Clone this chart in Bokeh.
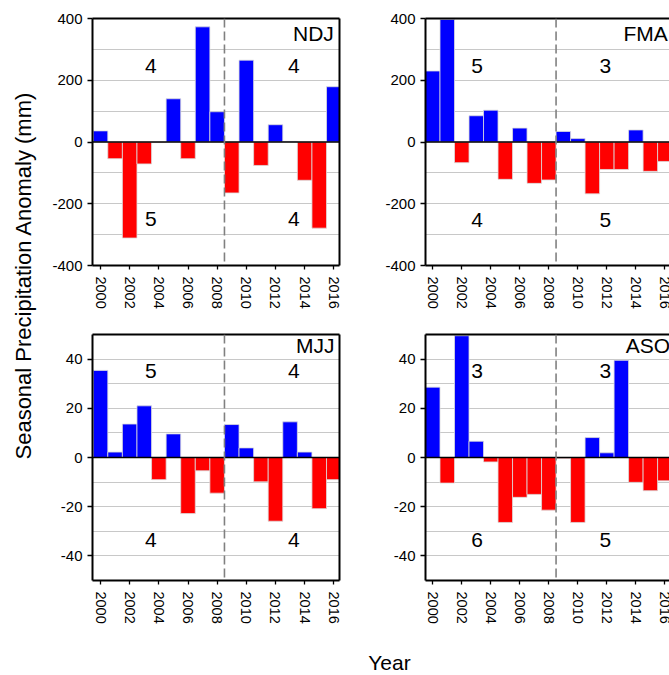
import numpy as np
from bokeh.plotting import figure
from bokeh.layouts import row, column
from bokeh.models import Range1d, FixedTicker, LinearAxis, Span, ColumnDataSource
from bokeh.core.properties import value
from bokeh.embed import file_html
from bokeh.resources import INLINE

# Seasonal precipitation anomalies (mm), 2000-2016
years = list(range(2000, 2017))
ndj = [36, -54, -311, -71, -2, 140, -54, 373, 98, -165, 265, -76, 56, 2, -124, -279, 179]
fma = [230, 397, -67, 85, 103, -121, 45, -134, -123, 34, 11, -168, -89, -89, 39, -95, -63]
mjj = [35.4, 2.2, 13.6, 21.0, -9.0, 9.6, -22.8, -5.4, -14.5, 13.4, 3.9, -9.9, -25.9, 14.5, 2.2, -20.8, -9.0]
aso = [28.6, -10.4, 49.5, 6.6, -1.8, -26.4, -16.2, -15.0, -21.4, -0.4, -26.4, 8.1, 1.9, 39.5, -10.1, -13.5, -9.5]
season_names = ["NDJ", "FMA", "MJJ", "ASO"]
year_ticks = list(range(2000, 2017, 2))
split_year = 2008.5

FONT = "Liberation Sans"
BLUE = "#0000FF"
RED = "#FF0000"


def count_signs(vals, before):
    sel = [v for y, v in zip(years, vals) if (y < split_year) == before]
    return sum(1 for v in sel if v > 0), sum(1 for v in sel if v < 0)


def make_panel(name, vals, ylim, major_step, grid_step, width, height, borders,
               xr, right_border, cnt_x, cnt_y, name_xy):
    left, right, top, bottom = borders
    p = figure(width=width, height=height, x_range=Range1d(*xr),
               y_range=Range1d(-ylim, ylim), output_backend="svg",
               toolbar_location=None, min_border_left=left, min_border_right=right,
               min_border_top=top, min_border_bottom=bottom,
               outline_line_color=None, background_fill_color="white",
               border_fill_color="white")

    # grid
    p.xgrid.visible = False
    grid_ticks = [g for g in np.arange(-ylim + grid_step, ylim, grid_step) if abs(g) > 1e-9]
    p.ygrid.ticker = FixedTicker(ticks=[float(g) for g in grid_ticks])
    p.ygrid.grid_line_color = "#c8c8c8"
    p.ygrid.grid_line_width = 1

    # bars
    colors = [BLUE if v > 0 else RED for v in vals]
    src = ColumnDataSource(dict(x=years, top=vals, color=colors))
    p.vbar(x="x", top="top", bottom=0, width=1, fill_color="color",
           line_color="#dcdcdc", line_width=0.8, source=src)

    # zero line and period separator
    p.add_layout(Span(location=0, dimension="width", line_color="black", line_width=1.3))
    p.add_layout(Span(location=split_year, dimension="height", line_color="#808080",
                      line_width=1.6, line_dash="9 4"))

    # counts of wet / dry seasons before and after the split
    pos_a, neg_a = count_signs(vals, True)
    pos_b, neg_b = count_signs(vals, False)
    p.text(x=[cnt_x[0], cnt_x[0], cnt_x[1], cnt_x[1]],
           y=[cnt_y[0], cnt_y[1], cnt_y[0], cnt_y[1]],
           text=[str(pos_a), str(neg_a), str(pos_b), str(neg_b)],
           text_align="center", text_baseline="middle",
           text_font=value(FONT), text_font_size="21px", text_color="black")

    # season name
    p.text(x=[name_xy[0]], y=[name_xy[1]], text=[name], text_align="left",
           text_baseline="middle", text_font=value(FONT), text_font_size="21px",
           text_color="black")

    # axes
    xa = p.xaxis[0]
    xa.ticker = FixedTicker(ticks=year_ticks)
    xa.major_label_orientation = "vertical"
    xa.major_label_text_font = FONT
    xa.major_label_text_font_size = "14.5px"
    xa.major_label_text_color = "black"
    xa.major_label_standoff = 7
    xa.major_tick_in = 0
    xa.major_tick_out = 4
    xa.minor_tick_line_color = None
    xa.axis_line_width = 2
    xa.major_tick_line_width = 1.3

    ya = p.yaxis[0]
    yticks = list(range(-ylim + (ylim % major_step), ylim + 1, major_step))
    ya.ticker = FixedTicker(ticks=yticks)
    # plain hyphen for negative labels
    ya.major_label_overrides = {t: str(t) for t in yticks}
    ya.major_label_text_font = FONT
    ya.major_label_text_font_size = "15px"
    ya.major_label_text_color = "black"
    ya.major_label_standoff = 5
    ya.major_tick_in = 0
    ya.major_tick_out = 5
    ya.minor_tick_line_color = None
    ya.axis_line_width = 2
    ya.major_tick_line_width = 1.3

    top_axis = LinearAxis(ticker=FixedTicker(ticks=[]), axis_line_width=2,
                          axis_line_color="black", minor_tick_line_color=None,
                          major_tick_line_color=None)
    p.add_layout(top_axis, "above")
    if right_border:
        right_axis = LinearAxis(ticker=FixedTicker(ticks=[]), axis_line_width=2,
                                axis_line_color="black", minor_tick_line_color=None,
                                major_tick_line_color=None, y_range_name="default")
        p.add_layout(right_axis, "right")
    return p


LEFT_XR = (1999.45, 2016.39)
RIGHT_XR = (1999.5, 2016.32)

tl = make_panel(season_names[0], ndj, 400, 200, 100, 333, 315, (47, 39, 18, 50),
                LEFT_XR, True, (2003.45, 2013.26), (246, -250), (2013.2, 351))
tr = make_panel(season_names[1], fma, 400, 200, 100, 291, 315, (47, 0, 18, 50),
                RIGHT_XR, False, (2003.06, 2011.9), (246, -254), (2013.15, 351))
bl = make_panel(season_names[2], mjj, 50, 20, 10, 333, 315, (47, 39, 19, 50),
                LEFT_XR, True, (2003.45, 2013.26), (35.3, -33.6), (2013.4, 45.5))
br = make_panel(season_names[3], aso, 50, 20, 10, 291, 315, (47, 0, 19, 50),
                RIGHT_XR, False, (2003.06, 2011.9), (35.3, -33.6), (2013.3, 45.5))

# shared axis titles
yt = figure(width=45, height=630, x_range=Range1d(0, 45), y_range=Range1d(0, 630),
            output_backend="svg", toolbar_location=None, min_border=0,
            outline_line_color=None, x_axis_type=None, y_axis_type=None)
yt.grid.visible = False
yt.text(x=[23], y=[630 - 275], text=["Seasonal Precipitation Anomaly (mm)"],
        angle=np.pi / 2, text_align="center", text_baseline="middle",
        text_font=value(FONT), text_font_size="22px", text_color="black")

xt = figure(width=669, height=45, x_range=Range1d(0, 669), y_range=Range1d(0, 45),
            output_backend="svg", toolbar_location=None, min_border=0,
            outline_line_color=None, x_axis_type=None, y_axis_type=None)
xt.grid.visible = False
xt.text(x=[389], y=[45 - 32], text=["Year"], text_align="center",
        text_baseline="middle", text_font=value(FONT), text_font_size="21px",
        text_color="black")

layout = column(row(yt, column(tl, bl), column(tr, br)), xt)

open("out.html", "w").write(file_html(layout, INLINE))
